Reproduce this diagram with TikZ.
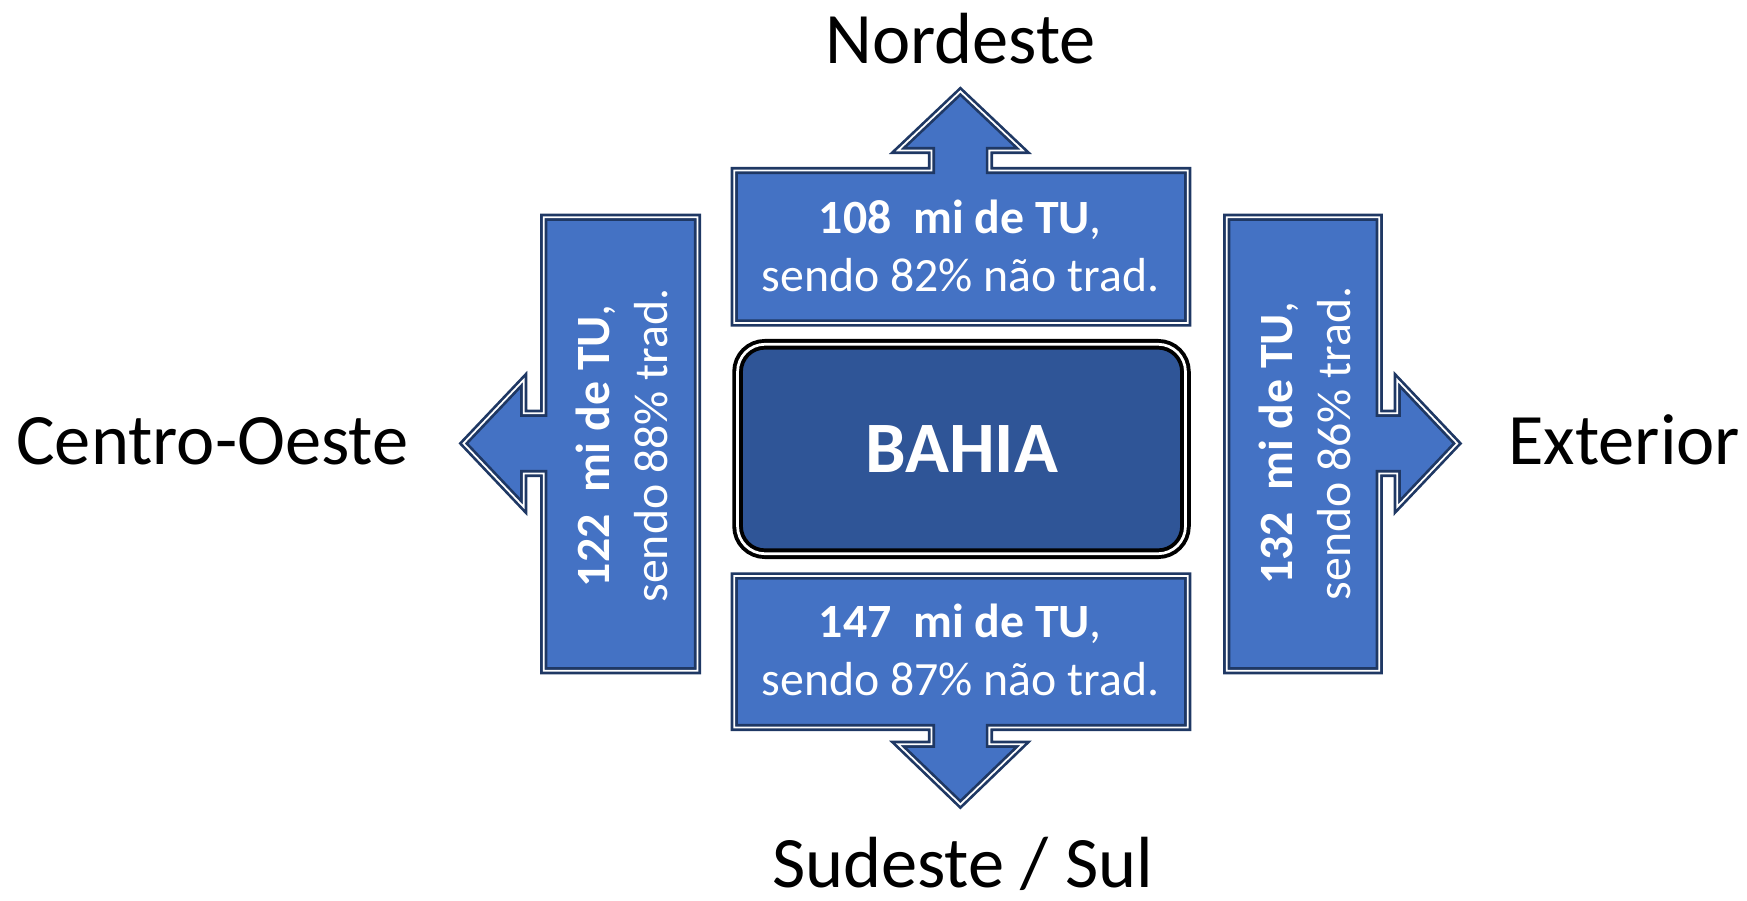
\documentclass[tikz,border=0pt]{standalone}
\usepackage{fontspec}
\setmainfont{Carlito}
\usepackage{tikz}
\definecolor{callfill}{HTML}{4472C4}
\definecolor{callline}{HTML}{1F3864}
\definecolor{corefill}{HTML}{2F5597}
\tikzset{
  callout/.style={fill=callfill, draw=callline, double=white, line width=0.7pt, double distance=0.45pt, line join=miter},
  core/.style={fill=corefill, draw=black, double=white, line width=1pt, double distance=0.7pt, rounded corners=7pt},
  corelab/.style={text=white, inner sep=0pt, font=\fontsize{18.5}{22}\selectfont\bfseries},
  flow/.style={text=white, inner sep=0pt, align=center, font=\fontsize{12.2}{14.8}\selectfont},
  region/.style={text=black, inner sep=0pt, anchor=base, font=\fontsize{18.5}{22}\selectfont}
}
\begin{document}
\begin{tikzpicture}[x=0.1mm, y=-0.1mm]
  \useasboundingbox (0,0) rectangle (1568,808);

  % callouts pointing out of Bahia
  \draw[callout] (659,290) -- (659,153) -- (836,153) -- (836,135) -- (806,135) -- (862,82)
    -- (918,135) -- (888,135) -- (888,153) -- (1066,153) -- (1066,290) -- cycle;
  \draw[callout] (659,517) -- (1066,517) -- (1066,653) -- (888,653) -- (888,668) -- (918,668)
    -- (862,722) -- (806,668) -- (836,668) -- (836,653) -- (659,653) -- cycle;
  \draw[callout] (626,195) -- (626,602) -- (488,602) -- (488,425) -- (470,425) -- (470,455)
    -- (416,398) -- (470,341) -- (470,371) -- (488,371) -- (488,195) -- cycle;
  \draw[callout] (1101,195) -- (1238,195) -- (1238,371) -- (1254,371) -- (1254,341) -- (1308,398)
    -- (1254,455) -- (1254,425) -- (1238,425) -- (1238,602) -- (1101,602) -- cycle;

  % state box
  \draw[core] (662,309) rectangle (1064,497);
  \node[corelab] (bahia) at (863,403) {BAHIA};

  % flows
  \node[flow] (fluxone) at (862,221) {\textbf{108\ \ mi de TU},\\sendo 82\% não trad.};
  \node[flow] (fluxse) at (862,583) {\textbf{147\ \ mi de TU},\\sendo 87\% não trad.};
  \node[flow, rotate=90] (fluxco) at (558,400) {\textbf{122\ \ mi de TU},\\sendo 88\% trad.};
  \node[flow, rotate=90] (fluxext) at (1171,398) {\textbf{132\ \ mi de TU},\\sendo 86\% trad.};

  % destinations
  \node[region] (nordeste) at (862,57) {Nordeste};
  \node[region] (sudeste) at (864,797) {Sudeste / Sul};
  \node[region, anchor=base west] (centro) at (14,417) {Centro-Oeste};
  \node[region, anchor=base west] (exterior) at (1353,417) {Exterior};
\end{tikzpicture}
\end{document}
